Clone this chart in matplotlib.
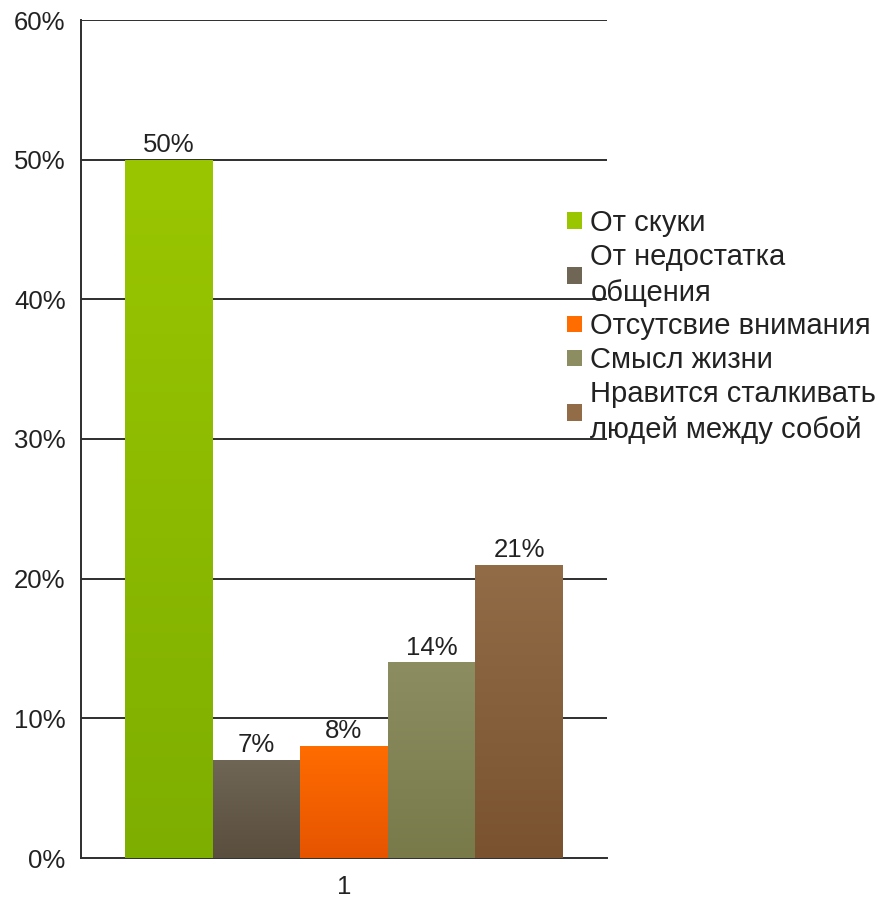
import numpy as np
import matplotlib
matplotlib.use("Agg")
import matplotlib.pyplot as plt
from matplotlib.colors import LinearSegmentedColormap, to_rgb
from matplotlib.patches import Patch

plt.rcParams['font.family'] = ['Liberation Sans', 'DejaVu Sans']

categories = ["От скуки", "От недостатка\nобщения", "Отсутсвие внимания",
              "Смысл жизни", "Нравится сталкивать\nлюдей между собой"]
values = [50, 7, 8, 14, 21]
group_label = "1"
top_colors = ["#9ac600", "#6f6656", "#ff6c00", "#8c8e62", "#916c47"]
bottom_colors = ["#7eae00", "#5a4e3e", "#e65400", "#787a4a", "#7a5230"]
yticks = [0, 10, 20, 30, 40, 50, 60]

fig = plt.figure(figsize=(8.85, 8.98), dpi=100)
ax = fig.add_axes([81/885, 1-858/898, (607-81)/885, 838/898])

n = len(values)
width = 0.1664
center = 0.5
xs = center + (np.arange(n) - (n-1)/2) * width

ax.set_xlim(0, 1)
ax.set_ylim(0, 60)

for y in yticks[1:]:
    ax.axhline(y, color="#2e2e2e", lw=1.4, zorder=1)

bars = ax.bar(xs, values, width=width, color=top_colors, zorder=2, linewidth=0)
grad = np.linspace(0, 1, 256).reshape(-1, 1)
for b, tc, bc, v in zip(bars, top_colors, bottom_colors, values):
    cmap = LinearSegmentedColormap.from_list("g", [to_rgb(bc), to_rgb(tc)])
    x0 = b.get_x(); x1 = x0 + b.get_width()
    im = ax.imshow(grad, cmap=cmap, extent=[x0, x1, 0, b.get_height()],
                   origin="lower", aspect="auto", zorder=3)
    im.set_clip_path(b)
    ax.text(b.get_x() + b.get_width()/2, v + 0.2, f"{v}%", ha="center",
            va="bottom", fontsize=18.5, color="#222222", zorder=4)

ax.set_xticks([center])
ax.set_xticklabels([group_label], fontsize=18.5)
ax.set_yticks(yticks)
ax.set_yticklabels([f"{y}%" for y in yticks], fontsize=18.5)
ax.tick_params(axis="both", length=0, colors="#222222")
ax.tick_params(axis="x", pad=12)
ax.tick_params(axis="y", pad=11)
for s in ["top", "right"]:
    ax.spines[s].set_visible(False)
ax.spines["left"].set_color("#2e2e2e")
ax.spines["left"].set_linewidth(1.4)
ax.spines["bottom"].set_color("#2e2e2e")
ax.spines["bottom"].set_linewidth(1.4)
ax.set_xlim(0, 1)
ax.set_ylim(0, 60)

handles = [Patch(facecolor=c, edgecolor="none") for c in top_colors]
leg = fig.legend(handles, categories, loc="upper left",
                 bbox_to_anchor=(567/885, 1-209/898), frameon=False,
                 fontsize=21, handlelength=0.5, handleheight=0.5,
                 handletextpad=0.3, labelspacing=0.2, borderpad=0,
                 borderaxespad=0)
for t in leg.get_texts():
    t.set_color("#222222")
    t.set_linespacing(1.35)

fig.savefig("out.png", dpi=100, facecolor="white")
